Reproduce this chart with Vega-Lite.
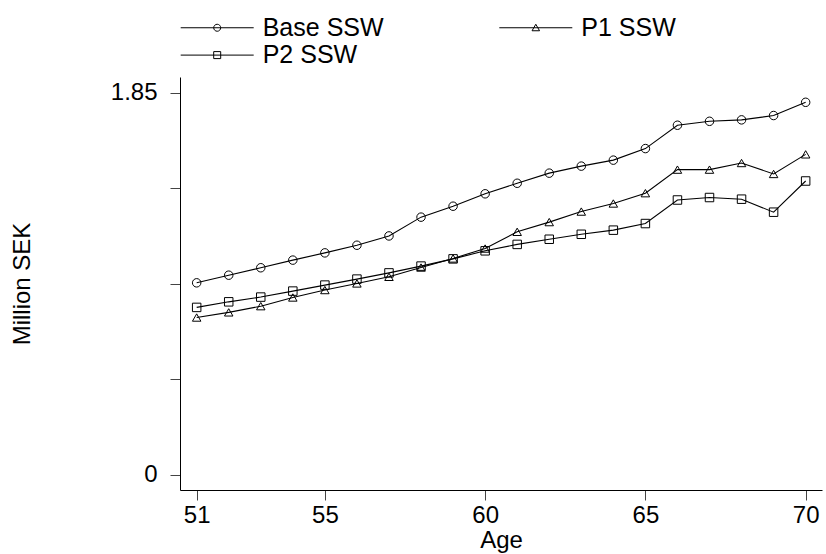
{
  "$schema": "https://vega.github.io/schema/vega-lite/v6.json",
  "width": 642,
  "height": 413,
  "autosize": {"type": "none"},
  "padding": {"left": 180, "top": 77, "right": 4, "bottom": 64},
  "background": "white",
  "config": {
    "view": {"stroke": null},
    "font": "Liberation Sans"
  },
  "data": {
    "values": [
      {"age": 51, "series": "Base SSW", "value": 0.929},
      {"age": 52, "series": "Base SSW", "value": 0.966},
      {"age": 53, "series": "Base SSW", "value": 1.002},
      {"age": 54, "series": "Base SSW", "value": 1.039},
      {"age": 55, "series": "Base SSW", "value": 1.074},
      {"age": 56, "series": "Base SSW", "value": 1.111},
      {"age": 57, "series": "Base SSW", "value": 1.156},
      {"age": 58, "series": "Base SSW", "value": 1.247},
      {"age": 59, "series": "Base SSW", "value": 1.300},
      {"age": 60, "series": "Base SSW", "value": 1.360},
      {"age": 61, "series": "Base SSW", "value": 1.411},
      {"age": 62, "series": "Base SSW", "value": 1.460},
      {"age": 63, "series": "Base SSW", "value": 1.494},
      {"age": 64, "series": "Base SSW", "value": 1.523},
      {"age": 65, "series": "Base SSW", "value": 1.579},
      {"age": 66, "series": "Base SSW", "value": 1.692},
      {"age": 67, "series": "Base SSW", "value": 1.711},
      {"age": 68, "series": "Base SSW", "value": 1.718},
      {"age": 69, "series": "Base SSW", "value": 1.739},
      {"age": 70, "series": "Base SSW", "value": 1.803},
      {"age": 51, "series": "P1 SSW", "value": 0.761},
      {"age": 52, "series": "P1 SSW", "value": 0.786},
      {"age": 53, "series": "P1 SSW", "value": 0.816},
      {"age": 54, "series": "P1 SSW", "value": 0.858},
      {"age": 55, "series": "P1 SSW", "value": 0.894},
      {"age": 56, "series": "P1 SSW", "value": 0.926},
      {"age": 57, "series": "P1 SSW", "value": 0.958},
      {"age": 58, "series": "P1 SSW", "value": 1.003},
      {"age": 59, "series": "P1 SSW", "value": 1.047},
      {"age": 60, "series": "P1 SSW", "value": 1.095},
      {"age": 61, "series": "P1 SSW", "value": 1.176},
      {"age": 62, "series": "P1 SSW", "value": 1.223},
      {"age": 63, "series": "P1 SSW", "value": 1.274},
      {"age": 64, "series": "P1 SSW", "value": 1.313},
      {"age": 65, "series": "P1 SSW", "value": 1.363},
      {"age": 66, "series": "P1 SSW", "value": 1.477},
      {"age": 67, "series": "P1 SSW", "value": 1.477},
      {"age": 68, "series": "P1 SSW", "value": 1.509},
      {"age": 69, "series": "P1 SSW", "value": 1.456},
      {"age": 70, "series": "P1 SSW", "value": 1.551},
      {"age": 51, "series": "P2 SSW", "value": 0.810},
      {"age": 52, "series": "P2 SSW", "value": 0.837},
      {"age": 53, "series": "P2 SSW", "value": 0.860},
      {"age": 54, "series": "P2 SSW", "value": 0.889},
      {"age": 55, "series": "P2 SSW", "value": 0.918},
      {"age": 56, "series": "P2 SSW", "value": 0.947},
      {"age": 57, "series": "P2 SSW", "value": 0.977},
      {"age": 58, "series": "P2 SSW", "value": 1.010},
      {"age": 59, "series": "P2 SSW", "value": 1.045},
      {"age": 60, "series": "P2 SSW", "value": 1.084},
      {"age": 61, "series": "P2 SSW", "value": 1.115},
      {"age": 62, "series": "P2 SSW", "value": 1.140},
      {"age": 63, "series": "P2 SSW", "value": 1.164},
      {"age": 64, "series": "P2 SSW", "value": 1.184},
      {"age": 65, "series": "P2 SSW", "value": 1.216},
      {"age": 66, "series": "P2 SSW", "value": 1.330},
      {"age": 67, "series": "P2 SSW", "value": 1.342},
      {"age": 68, "series": "P2 SSW", "value": 1.334},
      {"age": 69, "series": "P2 SSW", "value": 1.271},
      {"age": 70, "series": "P2 SSW", "value": 1.422}
    ]
  },
  "encoding": {
    "x": {
      "field": "age",
      "type": "quantitative",
      "scale": {"domain": [50.48, 70.51], "nice": false, "zero": false},
      "axis": {
        "values": [51, 55, 60, 65, 70],
        "title": "Age",
        "titleFontSize": 24,
        "titleFontWeight": "normal",
        "titleColor": "black",
        "titleFont": "Liberation Sans",
        "titleY": 57,
        "titleBaseline": "alphabetic",
        "labelFontSize": 24,
        "labelFont": "Liberation Sans",
        "labelColor": "black",
        "labelPadding": 3,
        "labelFlush": false,
        "labelOverlap": false,
        "tickSize": 10,
        "tickColor": "#444444",
        "tickWidth": 1,
        "domainColor": "black",
        "domainWidth": 1,
        "grid": false
      }
    },
    "y": {
      "field": "value",
      "type": "quantitative",
      "scale": {"domain": [-0.074, 1.9255], "nice": false, "zero": false},
      "axis": {
        "values": [0, 0.4625, 0.925, 1.3875, 1.85],
        "labelExpr": "datum.value === 0 ? '0' : (datum.value === 1.85 ? '1.85' : '')",
        "title": "Million SEK",
        "titleFontSize": 24,
        "titleFontWeight": "normal",
        "titleColor": "black",
        "titleFont": "Liberation Sans",
        "titleX": -158,
        "titleY": 206.5,
        "titleBaseline": "middle",
        "titleAngle": 270,
        "labelFontSize": 24,
        "labelFont": "Liberation Sans",
        "labelColor": "black",
        "labelPadding": 13,
        "labelOverlap": false,
        "tickSize": 10,
        "tickColor": "#444444",
        "tickWidth": 1,
        "domainColor": "black",
        "domainWidth": 1,
        "grid": false
      }
    }
  },
  "layer": [
    {
      "mark": {"type": "line", "color": "black", "strokeWidth": 1.1},
      "encoding": {"detail": {"field": "series"}}
    },
    {
      "mark": {"type": "point", "filled": false, "stroke": "black", "strokeWidth": 1, "size": 72, "opacity": 1},
      "encoding": {
        "shape": {
          "field": "series",
          "type": "nominal",
          "scale": {"domain": ["Base SSW", "P1 SSW", "P2 SSW"], "range": ["circle", "triangle-up", "square"]},
          "legend": null
        }
      }
    },
    {
      "transform": [{"filter": "datum.age > 1000"}],
      "mark": {"type": "point", "filled": false, "stroke": "black", "strokeWidth": 1},
      "encoding": {
        "shape": {
          "field": "series",
          "type": "nominal",
          "scale": {
            "domain": ["Base SSW", "P2 SSW", "P1 SSW"],
            "range": [
              "M-7.3,0H7.3M-0.7,0A0.7,0.7 0 1,0 0.7,0A0.7,0.7 0 1,0 -0.7,0",
              "M-7.3,0H7.3M-0.7,-0.7H0.7V0.7H-0.7Z",
              "M-7.3,0H7.3M0,-0.7L0.75,0.6L-0.75,0.6Z"
            ]
          },
          "legend": {
            "orient": "none",
            "legendX": 24.7,
            "legendY": -62,
            "columns": 2,
            "columnPadding": 113.6,
            "rowPadding": 1.6,
            "title": null,
            "padding": 0,
            "labelFontSize": 25,
            "labelFont": "Liberation Sans",
            "labelColor": "black",
            "labelOffset": 33,
            "symbolSize": 100,
            "symbolStrokeColor": "black",
            "symbolFillColor": "transparent",
            "symbolStrokeWidth": 1,
            "symbolOpacity": 1
          }
        }
      }
    }
  ],
  "resolve": {"scale": {"shape": "independent"}}
}
